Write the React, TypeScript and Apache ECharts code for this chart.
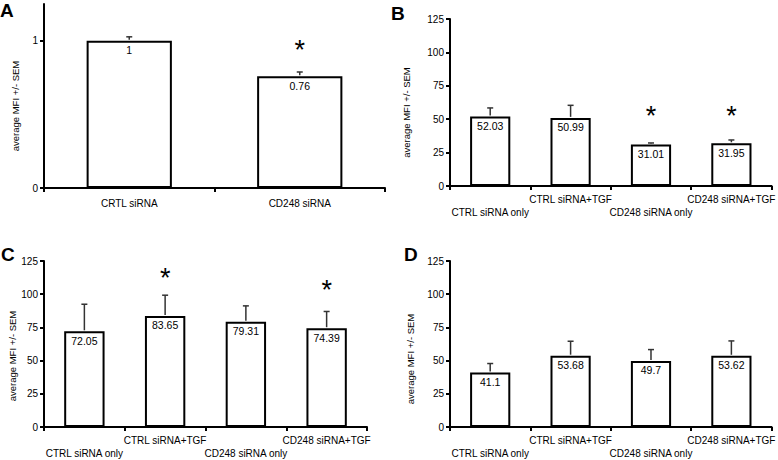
import React, { useEffect, useRef } from "react";
import * as echarts from "echarts";

const catsA = ["CRTL siRNA", "CD248 siRNA"];
const valsA = [1, 0.76];
const semA = [0.027, 0.028];
const starsA: (number | null)[] = [null, 0.94];

const cats4 = ["CTRL siRNA only", "CTRL siRNA+TGF", "CD248 siRNA only", "CD248 siRNA+TGF"];

const valsB = [52.03, 50.99, 31.01, 31.95];
const semB = [6.4, 9.4, 1.2, 2.5];
const starsB: (number | null)[] = [null, null, 52.5, 52.5];

const valsC = [72.05, 83.65, 79.31, 74.39];
const semC = [20.4, 15.6, 11.9, 12.6];
const starsC: (number | null)[] = [null, 112, null, 103];

const valsD = [41.1, 53.68, 49.7, 53.62];
const semD = [6.7, 10.9, 8.6, 11.2];
const starsD: (number | null)[] = [null, null, null, null];

const ticksA = [0, 1];
const ticks125 = [0, 25, 50, 75, 100, 125];

const yName = "average MFI +/- SEM";
const FONT = "Liberation Sans, Arial, sans-serif";

export default function App() {
  const ref = useRef<HTMLDivElement>(null);
  useEffect(() => {
    document.body.style.margin = "0";
    const chart = echarts.init(ref.current!, undefined, { renderer: "svg" });

    const grids = [
      { left: 44, top: 4, width: 341, height: 184 },
      { left: 450, top: 19, width: 325, height: 167 },
      { left: 44, top: 261, width: 323, height: 166 },
      { left: 450, top: 261, width: 325, height: 168 },
    ];
    const panels = [
      { cats: catsA, vals: valsA, sem: semA, stars: starsA, max: 1.25, ticks: ticksA, stagger: false, nameGap: 24, nameShift: 20 },
      { cats: cats4, vals: valsB, sem: semB, stars: starsB, max: 125, ticks: ticks125, stagger: true, nameGap: 39, nameShift: 20 },
      { cats: cats4, vals: valsC, sem: semC, stars: starsC, max: 125, ticks: ticks125, stagger: true, nameGap: 27, nameShift: 24 },
      { cats: cats4, vals: valsD, sem: semD, stars: starsD, max: 125, ticks: ticks125, stagger: true, nameGap: 35, nameShift: 30 },
    ];

    const xAxis: any[] = [];
    const yAxis: any[] = [];
    const series: any[] = [];

    panels.forEach((p, i) => {
      xAxis.push({
        type: "category",
        gridIndex: i,
        data: p.cats,
        boundaryGap: true,
        axisLine: { lineStyle: { color: "#000", width: 2 } },
        axisTick: { show: true, alignWithLabel: false, length: 4, lineStyle: { color: "#000", width: 2 } },
        axisLabel: {
          interval: 0,
          color: "#000",
          fontSize: 10,
          fontFamily: FONT,
          margin: p.stagger ? 7 : 9,
          lineHeight: 13,
          formatter: (v: string, idx: number) => (p.stagger && idx % 2 === 0 ? "\n" + v : v),
        },
        splitLine: { show: false },
      });
      yAxis.push({
        type: "value",
        gridIndex: i,
        min: 0,
        max: p.max,
        interval: p.max === 125 ? 25 : 1,
        name: yName,
        nameLocation: "middle",
        nameGap: p.nameGap,
        nameRotate: 90,
        nameTextStyle: { color: "#000", fontSize: 9.5, fontFamily: FONT, padding: [0, p.nameShift, 0, 0] },
        axisLine: { show: true, lineStyle: { color: "#000", width: 2 } },
        axisTick: { show: true, length: 4, customValues: p.ticks, lineStyle: { color: "#000", width: 2 } },
        axisLabel: { color: "#000", fontSize: 10, fontFamily: FONT, margin: 6, customValues: p.ticks },
        splitLine: { show: false },
      });
      series.push({
        type: "bar",
        xAxisIndex: i,
        yAxisIndex: i,
        data: p.vals,
        barWidth: "50%",
        itemStyle: { color: "#fff", borderColor: "#000", borderWidth: 2 },
        label: {
          show: true,
          position: "insideTop",
          distance: 4,
          color: "#000",
          textBorderWidth: 0,
          fontSize: 10.5,
          fontFamily: FONT,
        },
        z: 3,
      });
      series.push({
        type: "custom",
        xAxisIndex: i,
        yAxisIndex: i,
        data: p.vals.map((v, k) => [k, v, p.sem[k]]),
        renderItem: (params: any, api: any) => {
          const base = api.coord([api.value(0), api.value(1)]);
          const top = api.coord([api.value(0), api.value(1) + api.value(2)]);
          const st = { stroke: "#333", lineWidth: 1.5 };
          return {
            type: "group",
            children: [
              { type: "line", shape: { x1: base[0], y1: base[1] - 1, x2: top[0], y2: top[1] }, style: st },
              { type: "line", shape: { x1: top[0] - 3, y1: top[1], x2: top[0] + 3, y2: top[1] }, style: st },
            ],
          };
        },
        z: 2,
      });
      const starData = p.stars
        .map((s, k) => (s == null ? null : [k, s]))
        .filter((d) => d != null);
      if (starData.length) {
        series.push({
          type: "custom",
          xAxisIndex: i,
          yAxisIndex: i,
          data: starData,
          renderItem: (params: any, api: any) => {
            const c = api.coord([api.value(0), api.value(1)]);
            return {
              type: "text",
              x: c[0],
              y: c[1],
              style: {
                text: "*",
                fontSize: 27,
                fontFamily: FONT,
                fill: "#000",
                align: "center",
                verticalAlign: "middle",
              },
            };
          },
          z: 4,
        });
      }
    });

    const letter = (t: string, x: number, y: number) => ({
      type: "text",
      left: x,
      top: y,
      style: { text: t, fontSize: 19, fontWeight: "bold", fontFamily: FONT, fill: "#000" },
    });

    chart.setOption({
      animation: false,
      backgroundColor: "#fff",
      grid: grids,
      xAxis,
      yAxis,
      series,
      graphic: [letter("A", 0, 1), letter("B", 391, 4), letter("C", 1, 245), letter("D", 404, 245)],
    });
    return () => chart.dispose();
  }, []);
  return <div ref={ref} style={{ width: 778, height: 460 }} />;
}
